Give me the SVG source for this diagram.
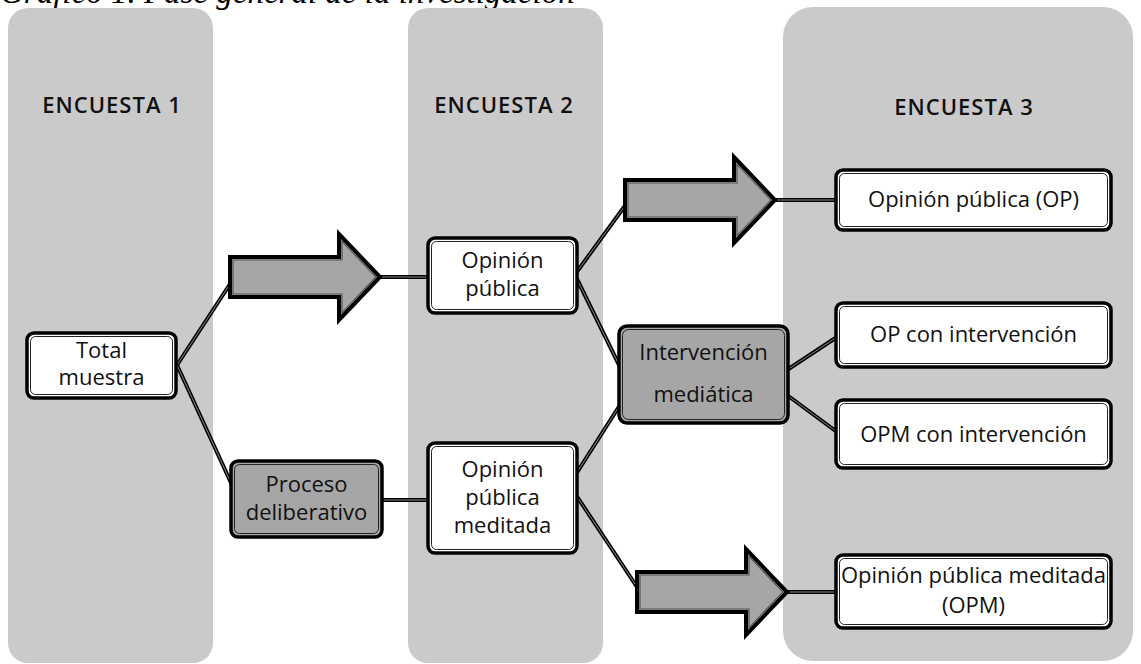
<svg xmlns="http://www.w3.org/2000/svg" xmlns:xlink="http://www.w3.org/1999/xlink" width="1141" height="664" viewBox="0 0 1141 664">
<style>
.col{fill:#cacaca}
.hdr{font-family:"Open Sans","Liberation Sans",sans-serif;font-size:22px;font-weight:600;fill:#111;text-anchor:middle;letter-spacing:1px}
.lbl{font-family:"Open Sans","Liberation Sans",sans-serif;font-size:22px;fill:#111;text-anchor:middle}
.title{font-family:"Liberation Serif",serif;font-style:italic;font-size:33px;fill:#000}
.bo{stroke:#000;stroke-width:3.5}
.w{fill:#fff}
.g{fill:#a6a6a6}
.bi{fill:none;stroke:#222;stroke-width:1}
.cb{stroke:#000;stroke-width:4;fill:none;stroke-linecap:butt}
.ci{stroke:#8a8a8a;stroke-width:1;fill:none}
.ao{fill:#a6a6a6;stroke:#000;stroke-width:4;stroke-linejoin:miter}
.ai{fill:none;stroke:#555;stroke-width:1.2}
</style>
<defs>
<g id="blockArrow">
<polygon class="ao" points="0,-20 109,-20 109,-43 150,0 109,43 109,20 0,20"/>
<polygon class="ai" points="3,-17 112,-17 112,-35.6 145.9,0 112,35.6 112,17 3,17"/>
</g>
</defs>
<text class="title" x="0" y="2.5">Gráfico 1. Fase general de la investigación</text>
<g id="columns">
<g id="col1"><rect class="col" x="8" y="8" width="205" height="655" rx="20"/><text class="hdr" x="112" y="113">ENCUESTA 1</text></g>
<g id="col2"><rect class="col" x="408" y="8" width="195" height="655" rx="20"/><text class="hdr" x="504" y="113">ENCUESTA 2</text></g>
<g id="col3"><rect class="col" x="783" y="7" width="350" height="654" rx="30"/><text class="hdr" x="964" y="115">ENCUESTA 3</text></g>
</g>
<g id="connectors">
<g>
<line class="cb" x1="177" y1="365" x2="232" y2="281"/><line class="ci" x1="177" y1="365" x2="232" y2="281"/>
<line class="cb" x1="177" y1="365" x2="232" y2="485"/><line class="ci" x1="177" y1="365" x2="232" y2="485"/>
<line class="cb" x1="380" y1="277" x2="429" y2="277"/><line class="ci" x1="380" y1="277" x2="429" y2="277"/>
<line class="cb" x1="381" y1="500" x2="429" y2="500"/><line class="ci" x1="381" y1="500" x2="429" y2="500"/>
<line class="cb" x1="576" y1="273" x2="627" y2="203"/><line class="ci" x1="576" y1="273" x2="627" y2="203"/>
<line class="cb" x1="576" y1="277" x2="620" y2="367"/><line class="ci" x1="576" y1="277" x2="620" y2="367"/>
<line class="cb" x1="576" y1="474" x2="620" y2="405"/><line class="ci" x1="576" y1="474" x2="620" y2="405"/>
<line class="cb" x1="576" y1="495" x2="639" y2="590"/><line class="ci" x1="576" y1="495" x2="639" y2="590"/>
<line class="cb" x1="775" y1="200" x2="837" y2="200"/><line class="ci" x1="775" y1="200" x2="837" y2="200"/>
<line class="cb" x1="785" y1="592" x2="837" y2="592"/><line class="ci" x1="785" y1="592" x2="837" y2="592"/>
<line class="cb" x1="787" y1="370" x2="837" y2="337"/><line class="ci" x1="787" y1="370" x2="837" y2="337"/>
<line class="cb" x1="787" y1="395" x2="837" y2="432"/><line class="ci" x1="787" y1="395" x2="837" y2="432"/>
</g>
<use xlink:href="#blockArrow" transform="translate(230,277)"/>
<use xlink:href="#blockArrow" transform="translate(625,200)"/>
<use xlink:href="#blockArrow" transform="translate(637,592)"/>
</g>
<g id="n-total">
<rect class="bo w" x="27" y="333" width="149" height="65" rx="7"/>
<rect class="bi" x="30.5" y="336.5" width="142" height="58" rx="5"/>
<text class="lbl" x="101.5" y="358">Total</text><text class="lbl" x="101.5" y="385">muestra</text>
</g>
<g id="n-op">
<rect class="bo w" x="428" y="238" width="149" height="75" rx="7"/>
<rect class="bi" x="431.5" y="241.5" width="142" height="68" rx="5"/>
<text class="lbl" x="502.5" y="268">Opinión</text><text class="lbl" x="502.5" y="296">pública</text>
</g>
<g id="n-proceso">
<rect class="bo g" x="231" y="461" width="151" height="76" rx="7"/>
<rect class="bi" x="234.5" y="464.5" width="144" height="69" rx="5"/>
<text class="lbl" x="306.5" y="492">Proceso</text><text class="lbl" x="306.5" y="520">deliberativo</text>
</g>
<g id="n-opm">
<rect class="bo w" x="428" y="443" width="149" height="110" rx="7"/>
<rect class="bi" x="431.5" y="446.5" width="142" height="103" rx="5"/>
<text class="lbl" x="502.5" y="477">Opinión</text><text class="lbl" x="502.5" y="505">pública</text><text class="lbl" x="502.5" y="533">meditada</text>
</g>
<g id="n-interv">
<rect class="bo g" x="619" y="326" width="169" height="97" rx="8"/>
<rect class="bi" x="622.5" y="329.5" width="162" height="90" rx="6"/>
<text class="lbl" x="703.5" y="360">Intervención</text><text class="lbl" x="703.5" y="402">mediática</text>
</g>
<g id="n-op3">
<rect class="bo w" x="836" y="170" width="275" height="60" rx="7"/>
<rect class="bi" x="839.5" y="173.5" width="268" height="53" rx="5"/>
<text class="lbl" x="973.5" y="207">Opinión pública (OP)</text>
</g>
<g id="n-opint">
<rect class="bo w" x="836" y="303" width="275" height="64" rx="7"/>
<rect class="bi" x="839.5" y="306.5" width="268" height="57" rx="5"/>
<text class="lbl" x="973.5" y="342">OP con intervención</text>
</g>
<g id="n-opmint">
<rect class="bo w" x="836" y="400" width="275" height="68" rx="7"/>
<rect class="bi" x="839.5" y="403.5" width="268" height="61" rx="5"/>
<text class="lbl" x="973.5" y="442">OPM con intervención</text>
</g>
<g id="n-opm3">
<rect class="bo w" x="836" y="555" width="275" height="73" rx="7"/>
<rect class="bi" x="839.5" y="558.5" width="268" height="66" rx="5"/>
<text class="lbl" x="973.5" y="583">Opinión pública meditada</text><text class="lbl" x="973.5" y="613">(OPM)</text>
</g>
</svg>
